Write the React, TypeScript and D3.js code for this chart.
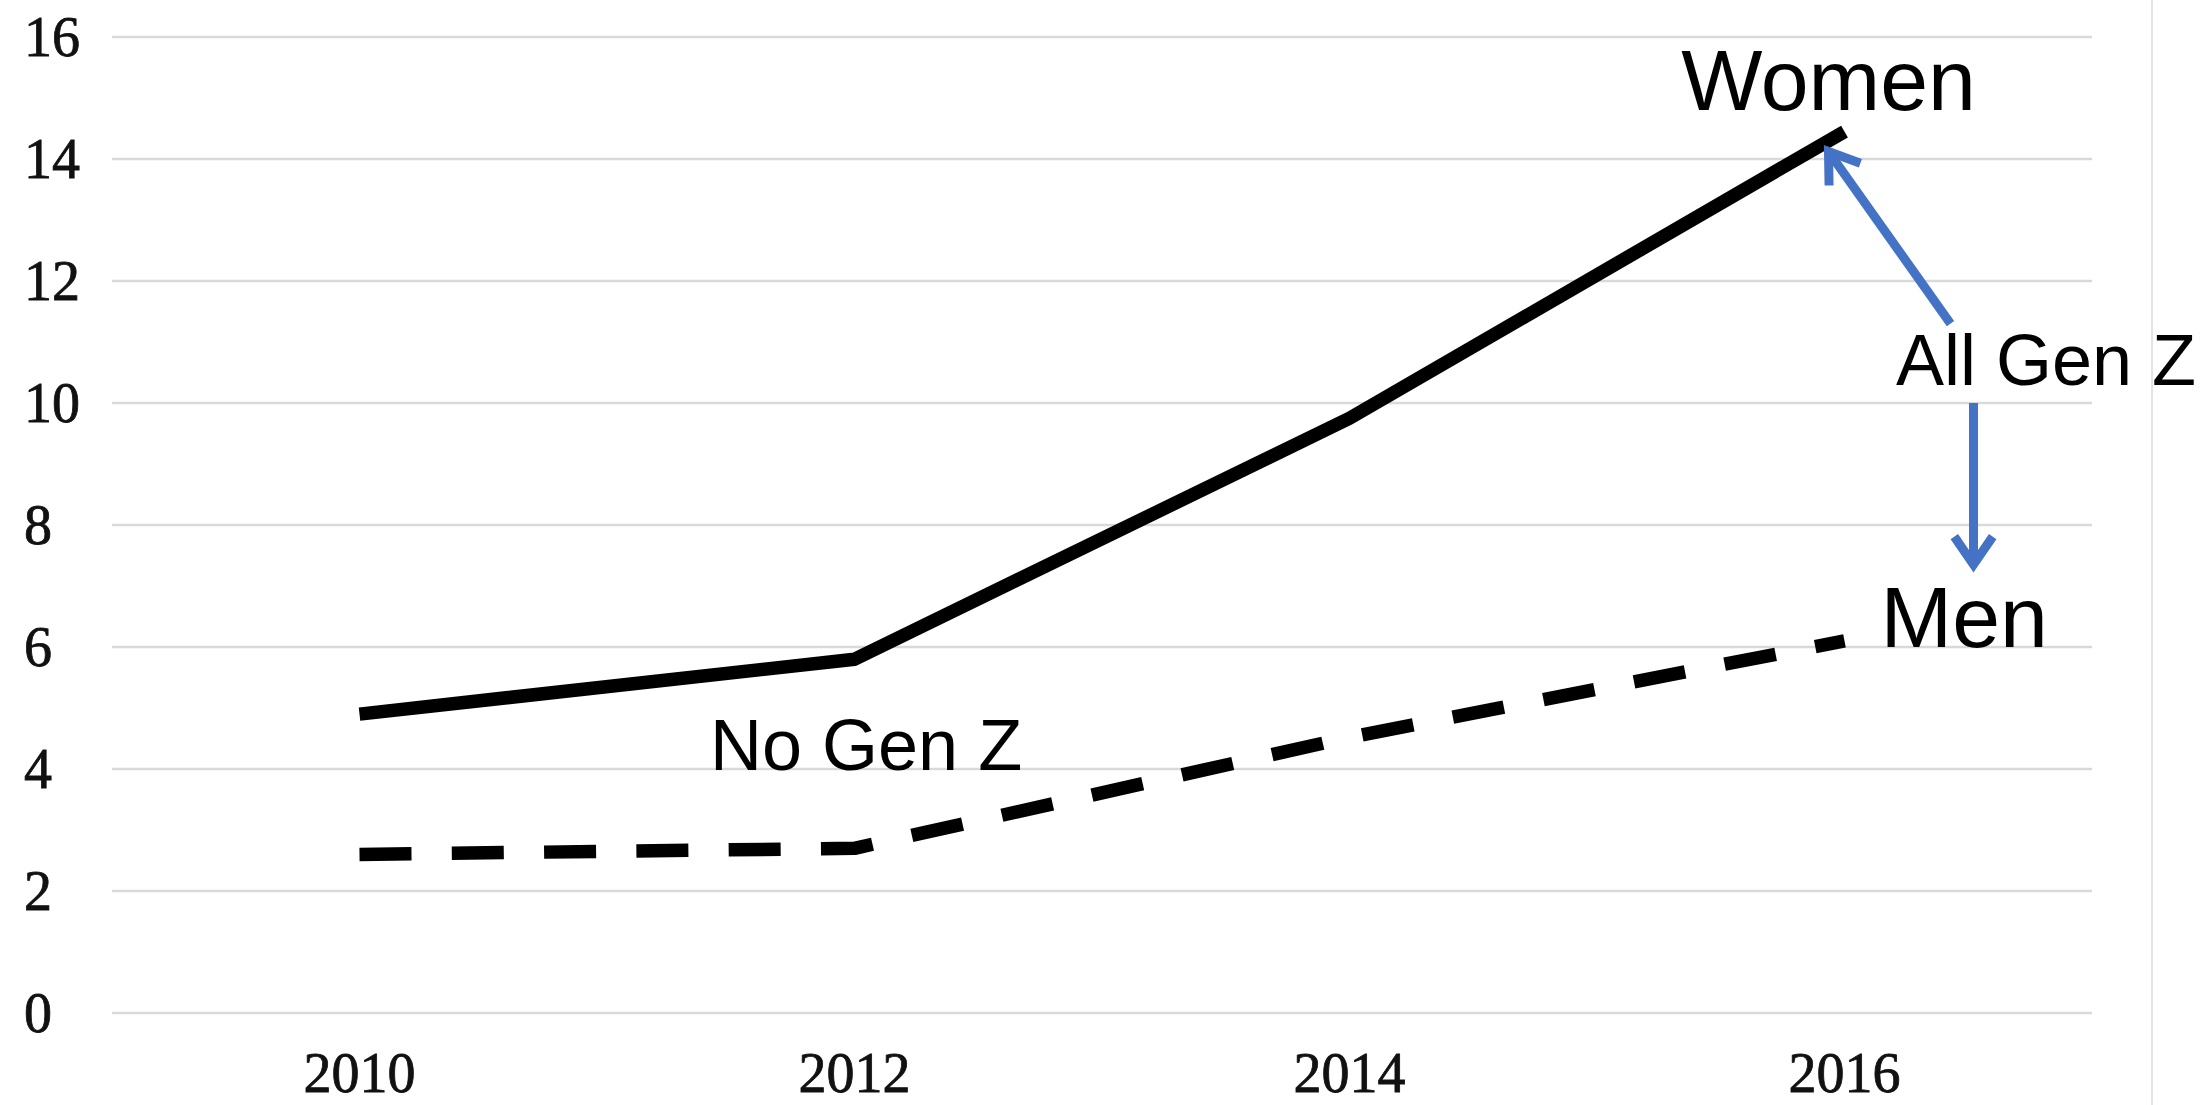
import React from "react";
import * as d3 from "d3";

const years = ["2010", "2012", "2014", "2016"];
const women = [4.9, 5.8, 9.75, 14.45];
const men = [2.6, 2.7, 4.52, 6.1];
const yTicks = [0, 2, 4, 6, 8, 10, 12, 14, 16];

const width = 2206;
const height = 1105;
const margin = {top: 37, right: 114, bottom: 92, left: 112};

const blue = "#4472c4";
const grid = "#d9d9d9";

const App = () => {
    const xScale = d3
        .scalePoint<string>()
        .domain(years)
        .range([margin.left, width - margin.right])
        .padding(0.5);

    const yScale = d3
        .scaleLinear()
        .domain([0, 16])
        .range([height - margin.bottom, margin.top]);

    const line = d3
        .line<number>()
        .x((d, i) => xScale(years[i]) as number)
        .y((d) => yScale(d));

    // annotation anchors, worked out from the last point of each series
    const lastX = xScale(years[years.length - 1]) as number;
    const womenEnd = yScale(women[women.length - 1]);
    const menEnd = yScale(men[men.length - 1]);

    const tip1 = {x: lastX - 16, y: womenEnd + 20};
    const tail1 = {x: lastX + 106, y: yScale(11.3)};
    const tail2 = {x: lastX + 129, y: yScale(10)};
    const tip2 = {x: lastX + 129, y: yScale(7.35)};

    const head = (tip: {x: number, y: number}, from: {x: number, y: number}) => {
        const a = Math.atan2(from.y - tip.y, from.x - tip.x);
        const len = 34;
        const spread = 0.6;
        const p1 = [tip.x + len * Math.cos(a - spread), tip.y + len * Math.sin(a - spread)];
        const p2 = [tip.x + len * Math.cos(a + spread), tip.y + len * Math.sin(a + spread)];
        return `M${p1[0]},${p1[1]}L${tip.x},${tip.y}L${p2[0]},${p2[1]}`;
    };

    return (
        <svg width={width} height={height} style={{position: "absolute", left: 0, top: 0, background: "#fff"}}>
            {yTicks.map((t) => (
                <g key={t}>
                    <line x1={margin.left} x2={width - margin.right} y1={yScale(t)} y2={yScale(t)}
                          stroke={grid} strokeWidth={2.5}/>
                    <text x={24} y={yScale(t)} dy="0.34em" fontFamily="Liberation Serif" fontSize={56}
                          fill="#111" stroke="#111" strokeWidth={0.8}>{t}</text>
                </g>
            ))}
            {years.map((y) => (
                <text key={y} x={xScale(y)} y={1092} textAnchor="middle" fontFamily="Liberation Serif"
                      fontSize={56} fill="#111" stroke="#111" strokeWidth={0.8}>{y}</text>
            ))}
            <line x1={2152} x2={2152} y1={0} y2={height} stroke="#e3e3e3" strokeWidth={2}/>

            <path d={line(women) as string} fill="none" stroke="#000" strokeWidth={13.5}
                  strokeLinejoin="round"/>
            <path d={line(men) as string} fill="none" stroke="#000" strokeWidth={13.5}
                  strokeDasharray="52 40.3" strokeLinejoin="round"/>

            <g stroke={blue} strokeWidth={9} fill="none">
                <line x1={tail1.x} y1={tail1.y} x2={tip1.x} y2={tip1.y}/>
                <path d={head(tip1, tail1)}/>
                <line x1={tail2.x} y1={tail2.y} x2={tip2.x} y2={tip2.y}/>
                <path d={head(tip2, tail2)}/>
            </g>

            <g fontFamily="Liberation Sans" fill="#000">
                <text x={lastX - 16} y={110} textAnchor="middle" fontSize={86}>Women</text>
                <text x={lastX + 36} y={menEnd + 6} fontSize={86}>Men</text>
                <text x={1896} y={385} fontSize={72}>All Gen Z</text>
                <text x={710} y={770} fontSize={72}>No Gen Z</text>
            </g>
        </svg>
    );
};

export default App;
